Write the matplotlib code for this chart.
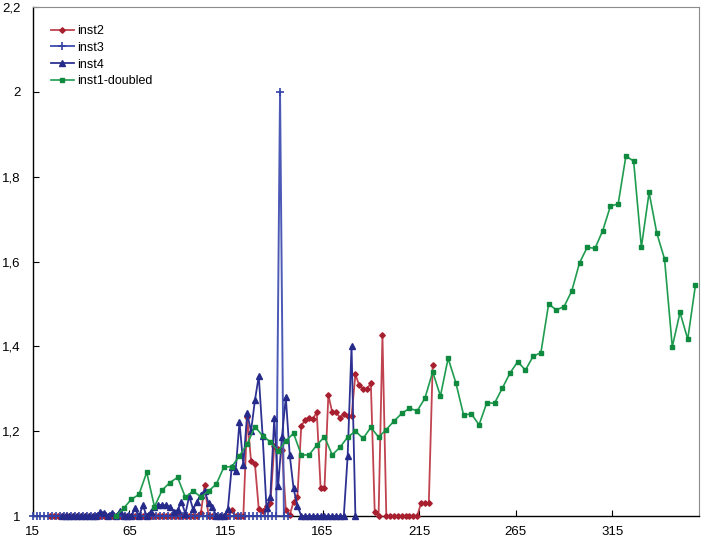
import numpy as np
import matplotlib
matplotlib.use("Agg")
import matplotlib.pyplot as plt
from matplotlib.ticker import FixedLocator, FuncFormatter

plt.rcParams['font.family'] = ['Liberation Sans', 'DejaVu Sans']

# x positions (regular steps)
inst2_x = np.arange(24, 223, 2)
inst3_x = np.arange(15, 148, 2)
inst4_x = np.arange(30, 183, 2)
inst1_x = np.arange(58, 359, 4)

inst2_y = [
    1.0, 1.0, 1.0, 1.0, 1.0, 1.0, 1.0, 1.0, 1.0, 1.0,
    1.0, 1.0, 1.0, 1.0, 1.0, 1.0, 1.0, 1.0, 1.0, 1.0,
    1.0, 1.0, 1.0, 1.0, 1.0, 1.0, 1.0, 1.0, 1.0, 1.0,
    1.0, 1.0, 1.0, 1.0, 1.0, 1.0, 1.0, 1.0, 1.0,
    1.006, 1.073,
    1.0, 1.0, 1.0, 1.0, 1.0, 1.0,
    1.013, 1.0, 1.0, 1.0,
    1.234, 1.129, 1.123, 1.016, 1.012, 1.024, 1.031, 1.165, 1.158, 1.156,
    1.014, 1.002, 1.034, 1.046, 1.213, 1.226, 1.232, 1.229, 1.245, 1.066,
    1.066, 1.285, 1.245, 1.245, 1.232, 1.240, 1.235, 1.235, 1.334, 1.308,
    1.300, 1.300, 1.313, 1.010, 1.000, 1.427,
    1.0, 1.0, 1.0, 1.0, 1.0, 1.0, 1.0, 1.0, 1.0,
    1.031, 1.031, 1.031, 1.356,
]

inst3_y = [
    1.0, 1.0, 1.0, 1.0, 1.0, 1.0, 1.0, 1.0, 1.0, 1.0,
    1.0, 1.0, 1.0, 1.0, 1.0, 1.0, 1.0, 1.0, 1.0, 1.0,
    1.0, 1.0, 1.0, 1.0, 1.0, 1.0, 1.0, 1.0, 1.0, 1.0,
    1.0, 1.0, 1.0, 1.0, 1.0, 1.0, 1.0, 1.0, 1.0, 1.0,
    1.0, 1.0, 1.0, 1.0, 1.0, 1.0, 1.0, 1.0, 1.0, 1.0,
    1.0, 1.0, 1.0, 1.0, 1.0, 1.0, 1.0, 1.0, 1.0, 1.0,
    1.0, 1.0, 1.0, 1.0, 2.0, 1.0, 1.0,
]

inst4_y = [
    1.0, 1.0, 1.0, 1.0, 1.0, 1.0, 1.0, 1.0, 1.0, 1.0,
    1.010, 1.008, 1.0, 1.008, 1.0, 1.012, 1.0, 1.0, 1.0, 1.020,
    1.0, 1.025, 1.0,
    1.010, 1.022, 1.026, 1.026, 1.025, 1.022, 1.010, 1.014, 1.034, 1.005,
    1.047, 1.016, 1.034, 1.050, 1.060, 1.030, 1.022,
    1.0, 1.0, 1.0, 1.016, 1.116, 1.105, 1.222, 1.120, 1.242, 1.200,
    1.273, 1.330, 1.188, 1.018, 1.046, 1.230, 1.071, 1.187, 1.280, 1.144,
    1.065, 1.024,
    1.0, 1.0, 1.0, 1.0, 1.0, 1.0, 1.0, 1.0, 1.0, 1.0, 1.0, 1.0,
    1.142, 1.401, 1.0,
]

inst1_y = [
    1.000, 1.018, 1.039, 1.051, 1.103, 1.022, 1.061, 1.079, 1.091, 1.044,
    1.059, 1.045, 1.059, 1.075, 1.116, 1.116, 1.142, 1.169, 1.211, 1.189,
    1.175, 1.153, 1.177, 1.195, 1.144, 1.144, 1.167, 1.187, 1.144, 1.162,
    1.186, 1.200, 1.183, 1.209, 1.186, 1.204, 1.224, 1.242, 1.254, 1.248,
    1.278, 1.340, 1.283, 1.372, 1.314, 1.238, 1.241, 1.215, 1.267, 1.266,
    1.301, 1.337, 1.364, 1.344, 1.377, 1.385, 1.500, 1.486, 1.494, 1.531,
    1.597, 1.634, 1.631, 1.673, 1.731, 1.736, 1.849, 1.837, 1.634, 1.763,
    1.667, 1.606, 1.399, 1.480, 1.417, 1.545,
]

x_ticks = [15, 65, 115, 165, 215, 265, 315]
y_ticks = [1.0, 1.2, 1.4, 1.6, 1.8, 2.0, 2.2]

fig = plt.figure(figsize=(7.02, 5.41), dpi=100)
ax = fig.add_axes([0.0466, 0.0462, 0.9496, 0.9405])

ax.plot(inst2_x, inst2_y, color='#c0434f', lw=1.3, marker='D', ms=2.8,
        mfc='#a8202f', mec='#a8202f', label='inst2', clip_on=False, zorder=3)
ax.plot(inst3_x, inst3_y, color='#4c5ab6', lw=1.4, marker='+', ms=5.5,
        mew=1.2, mec='#3342a6', label='inst3', clip_on=False, zorder=3)
ax.plot(inst4_x, inst4_y, color='#2d3192', lw=1.3, marker='^', ms=4,
        mfc='#262a8a', mec='#262a8a', label='inst4', clip_on=False, zorder=3)
ax.plot(inst1_x, inst1_y, color='#1f9c4f', lw=1.2, marker='s', ms=2.8,
        mfc='#0f8a3e', mec='#0f8a3e', label='inst1-doubled', clip_on=False, zorder=3)

ax.set_xlim(15, 360)
ax.set_ylim(1.0, 2.2)
ax.xaxis.set_major_locator(FixedLocator(x_ticks))
ax.yaxis.set_major_locator(FixedLocator(y_ticks))
ax.yaxis.set_major_formatter(FuncFormatter(lambda v, p: ('%g' % round(v, 1)).replace('.', ',')))
ax.tick_params(axis='both', direction='in', length=4, width=0.8, labelsize=9.5, colors='black')
ax.tick_params(axis='x', pad=7)
ax.tick_params(axis='y', pad=9)

for s in ['left', 'bottom']:
    ax.spines[s].set_color('black')
    ax.spines[s].set_linewidth(1.0)
for s in ['top', 'right']:
    ax.spines[s].set_color('#8c8c8c')
    ax.spines[s].set_linewidth(0.8)

ax.legend(loc='upper left', bbox_to_anchor=(0.0275, 0.965), frameon=False,
          fontsize=9, handlelength=1.8, handletextpad=0.25, labelspacing=0.38,
          borderpad=0, borderaxespad=0)

fig.savefig('out.png', dpi=100)
